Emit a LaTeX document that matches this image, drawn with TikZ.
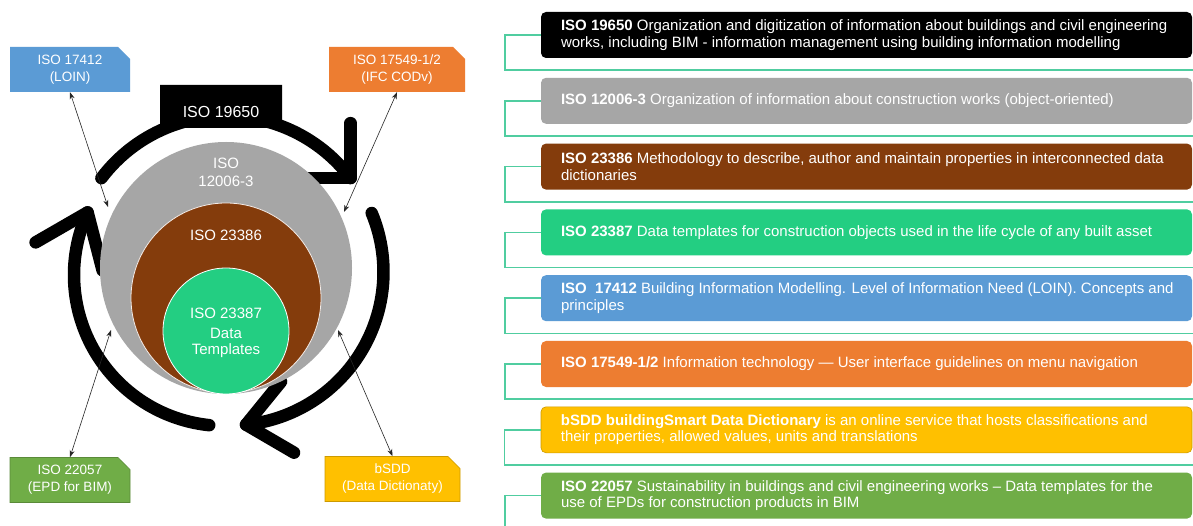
\documentclass[tikz,border=0pt]{standalone}
\usepackage{fontspec}
\setmainfont{Liberation Sans}
\usetikzlibrary{arrows.meta,shapes.misc,calc}
\definecolor{cBlue}{HTML}{5B9BD5}
\definecolor{cOrange}{HTML}{ED7D31}
\definecolor{cGray}{HTML}{A6A6A6}
\definecolor{cBrown}{HTML}{843C0C}
\definecolor{cGreen}{RGB}{35,206,130}
\definecolor{cOlive}{HTML}{70AD47}
\definecolor{cYellow}{HTML}{FFC000}
\definecolor{cLine}{RGB}{80,205,160}
\begin{document}
\begin{tikzpicture}[x=1pt,y=1pt,
  labelbox/.style={chamfered rectangle, chamfered rectangle corners={north east},
    chamfered rectangle xsep=6pt, chamfered rectangle ysep=6pt,
    minimum width=#1, minimum height=45pt, inner sep=0pt, text=white, align=center,
    font=\fontsize{13.5}{17}\selectfont},
  rowbox/.style={rounded corners=5pt, minimum width=651pt, minimum height=46pt, inner sep=0pt},
  rowtext/.style={anchor=west, align=left, text=white, inner sep=0pt,
    font=\fontsize{15}{16.5}\selectfont},
  bracket/.style={draw=cLine, line width=1.5pt},
  cyc/.style={line width=12.5pt, line cap=round, line join=round},
  ctext/.style={text=white, align=center, inner sep=0pt, font=\fontsize{15}{18}\selectfont},
  link/.style={{Stealth[length=7pt,width=5pt]}-{Stealth[length=7pt,width=5pt]}, line width=0.6pt, draw=black!85}
]
\useasboundingbox (0,0) rectangle (1193,525);
\fill[white] (0,0) rectangle (1193,525);

% ---- cycle arrows ----
\coordinate (T1) at ($(226,253)+(37:156)$);
\draw[cyc] ($(226,253)+(143:156)$) arc[start angle=143, end angle=37, radius=156];
\draw[cyc] ($(T1)+(0,55)$) -- (T1) -- ($(T1)+(-55,0)$);

\coordinate (T2) at ($(230,253)+(-84:153.5)$);
\draw[cyc] ($(230,253)+(22.6:153.5)$) arc[start angle=22.6, end angle=-84, radius=153.5];
\draw[cyc] ($(T2)+(35,43)$) -- (T2) -- ($(T2)+(48,-28)$);

\coordinate (T3) at ($(225,250)+(155.5:151)$);
\draw[cyc] ($(225,250)+(264:151)$) arc[start angle=264, end angle=155.5, radius=151];
\draw[cyc] ($(T3)+(-52,-30)$) -- (T3) -- ($(T3)+(15,-58)$);

% ---- circles ----
\node[circle, fill=cGray, minimum size=252pt, inner sep=0pt] (gray) at (226,257) {};
\node[circle, fill=cBrown, draw=white!90!cBrown, line width=0.8pt, minimum size=190pt, inner sep=0pt] (brown) at (226,227) {};
\node[circle, fill=cGreen, draw=white, line width=0.8pt, minimum size=126pt, inner sep=0pt] (green) at (226,194) {};
\node[ctext] (l12006) at (226,353) {ISO\\12006-3};
\node[ctext] (l23386) at (226,290) {ISO 23386};
\node[ctext] (l23387) at (226,212) {ISO 23387};
\node[ctext, font=\fontsize{15}{16}\selectfont] (ldata) at (226,182) {Data\\Templates};

% ---- ISO 19650 tab ----
\node[chamfered rectangle, chamfered rectangle corners={north east,north west},
  chamfered rectangle xsep=5pt, chamfered rectangle ysep=5pt,
  minimum width=122pt, minimum height=43pt, inner sep=0pt, fill=black] (b19650) at (221,418.5) {};
\node[text=white, inner sep=0pt, font=\fontsize{16}{19}\selectfont] (t19650) at ([yshift=-5pt]b19650.center) {ISO 19650};

% ---- outer label boxes ----
\node[labelbox=120pt, fill=cBlue] (loin) at (70,455.5) {ISO 17412\\(LOIN)};
\node[labelbox=136pt, fill=cOrange] (ifc) at (397,455.5) {ISO 17549-1/2\\(IFC CODv)};
\node[labelbox=120pt, fill=cOlive, draw=cOlive!80!black, line width=0.6pt] (epd) at (70,45) {ISO 22057\\(EPD for BIM)};
\node[labelbox=135pt, fill=cYellow, draw=cYellow!80!black, line width=0.6pt] (bsdd) at (392.5,46) {bSDD\\(Data Dictionaty)};

\coordinate (aLoin) at (108,318);
\coordinate (aIfc) at (344,313);
\coordinate (aEpd) at (111,195);
\coordinate (aBsdd) at (338,195);
\draw[link] (loin.south) -- (aLoin);
\draw[link] (ifc.south) -- (aIfc);
\draw[link] (aEpd) -- (epd.north);
\draw[link] (aBsdd) -- (bsdd.north);

% ---- right panel ----
\node[rowbox, fill=black] (r1) at (866.5,490) {};
\node[rowbox, fill=cGray] (r2) at (866.5,424.2) {};
\node[rowbox, fill=cBrown] (r3) at (866.5,358.4) {};
\node[rowbox, fill=cGreen] (r4) at (866.5,292.6) {};
\node[rowbox, fill=cBlue] (r5) at (866.5,226.8) {};
\node[rowbox, fill=cOrange] (r6) at (866.5,161) {};
\node[rowbox, fill=cYellow, draw=cYellow!80!black, line width=0.6pt] (r7) at (866.5,95.2) {};
\node[rowbox, fill=cOlive] (r8) at (866.5,29.4) {};

\node[rowtext] (t1) at ([xshift=20pt]r1.west) {\textbf{ISO 19650} Organization and digitization of information about buildings and civil engineering\\works, including BIM - information management using building information modelling};
\node[rowtext] (t2) at ([xshift=20pt]r2.west) {\textbf{ISO 12006-3} Organization of information about construction works (object-oriented)};
\node[rowtext] (t3) at ([xshift=20pt]r3.west) {\textbf{ISO 23386} Methodology to describe, author and maintain properties in interconnected data\\dictionaries};
\node[rowtext] (t4) at ([xshift=20pt]r4.west) {\textbf{ISO 23387} Data templates for construction objects used in the life cycle of any built asset};
\node[rowtext] (t5) at ([xshift=20pt]r5.west) {\textbf{ISO\ \ 17412} Building Information Modelling. Level of Information Need (LOIN). Concepts and\\principles};
\node[rowtext] (t6) at ([xshift=20pt]r6.west) {\textbf{ISO 17549-1/2} Information technology — User interface guidelines on menu navigation};
\node[rowtext] (t7) at ([xshift=20pt]r7.west) {\textbf{bSDD buildingSmart Data Dictionary} is an online service that hosts classifications and\\their properties, allowed values, units and translations};
\node[rowtext] (t8) at ([xshift=20pt]r8.west) {\textbf{ISO 22057} Sustainability in buildings and civil engineering works – Data templates for the\\use of EPDs for construction products in BIM};

\foreach \r in {r1,r2,r3,r4,r5,r6,r7,r8}{
  \draw[bracket] (\r.west) -- ++(-36,0) |- ([yshift=-12pt]\r.south east) -- ++(2,0);
}
\end{tikzpicture}
\end{document}
